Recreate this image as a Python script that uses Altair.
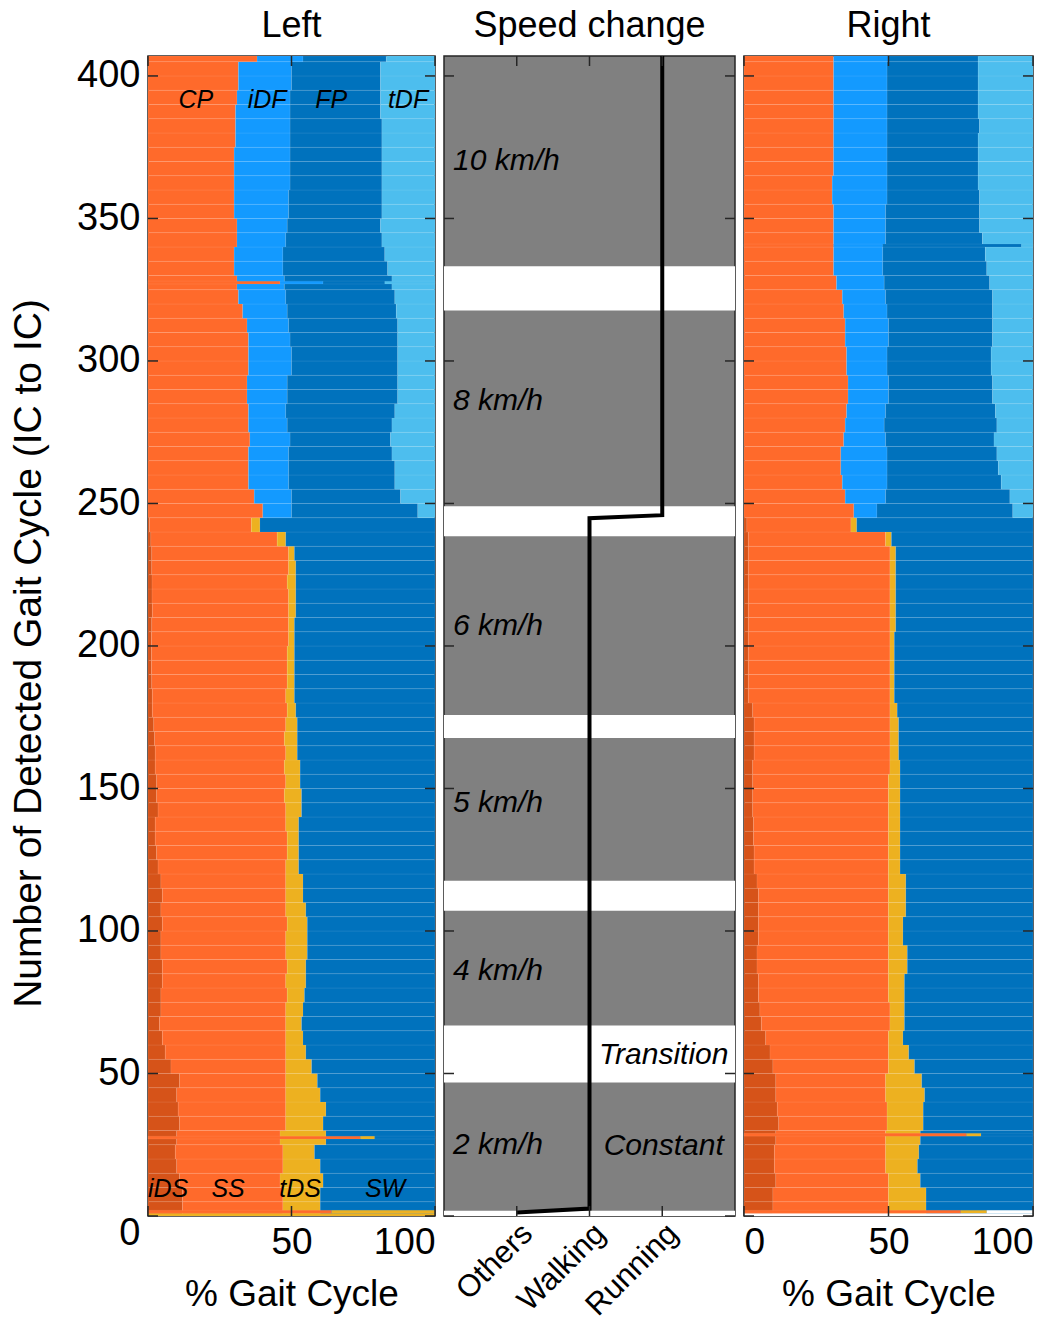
import altair as alt
import pandas as pd

# ---------------- data ----------------
CYCLE_MAX = 407
WALK_END = 245
BLOCK = 5

WALK_PHASES = ["iDS", "SS", "tDS", "SW"]
RUN_PHASES = ["CP", "iDF", "FP", "tDF"]
PHASE_COLOR = {
    "iDS": "#D65319", "SS": "#FF6A2B", "tDS": "#EDB120", "SW": "#0072BD",
    "CP": "#FF6A2B", "iDF": "#139AFF", "FP": "#0072BD", "tDF": "#4DBEEE",
    "none": "#FFFFFF",
}

# walking blocks of 5 cycles (0-245): ends of iDS, SS, tDS (% gait cycle)
LEFT_WALK_IDS = [12, 12, 11, 10, 9.5, 10, 11, 10.5, 10, 11, 8, 6, 5, 4, 4.5,
                 4.5, 5, 5, 4.5, 4.5, 5, 4.5, 5, 4.5, 3.5, 3, 2.5, 2.5, 3.5, 3,
                 3, 2.5, 2.5, 2.3, 2, 1.5, 1.5, 1.3, 1.2, 1.2, 1.2, 1.3, 1.5, 1.4, 1.4,
                 1.3, 1.3, 1, 0.5]
LEFT_WALK_SS = [47, 47, 46, 47, 47, 46, 48, 48, 48, 48, 48, 48, 48, 48, 48,
                48.5, 48, 48.5, 48, 48, 48.5, 48, 48, 48, 48, 48.5, 48.5, 48, 48, 47.5,
                48, 47.5, 48, 47.5, 48, 48.5, 48, 48.5, 48.5, 48.5, 49, 49, 49, 49, 48.5,
                49, 49, 45, 36]
LEFT_WALK_TDS = [60, 60, 61, 60, 58, 62, 61, 62, 60, 59, 57, 55, 54, 53.5, 54,
                 54.5, 55, 55, 55.5, 55.5, 55.5, 55, 54, 54, 52.5, 52.5, 52.5, 52.5, 53.5, 53.5,
                 53, 53, 52, 52, 52, 51.5, 51, 51, 51, 51, 51, 51, 51.5, 51.5, 51.5,
                 51.5, 51, 48, 39]
# running blocks of 5 cycles (245-407): ends of CP, iDF, FP
LEFT_RUN_CP = [40, 37, 35, 35, 35, 35.5, 35, 35, 34.5, 34.5, 35, 35, 35, 34.5, 33,
               31.5, 31, 30, 30, 31, 31, 30, 30, 30, 30, 30, 30.5, 30.5, 30.5, 31,
               31.5, 31.5, 38]
LEFT_RUN_IDF = [50, 50, 49, 49, 49, 49.5, 48.5, 48, 48.5, 48.5, 50, 50, 49.5, 49, 48.5,
                48, 47.5, 47, 47, 48, 48.5, 49, 49, 49.5, 49.5, 49.5, 49.5, 49.5, 49.5, 49.5,
                50, 50, 54]
LEFT_RUN_FP = [94, 88, 86, 86, 85, 84.5, 85, 86, 87, 87, 87, 87, 87, 87, 86.5,
               86, 85, 83.5, 82.5, 81.5, 81, 81.5, 81.5, 81.5, 81.5, 81.5, 81.5, 81.5, 81, 81,
               81, 81, 83]

RIGHT_WALK_IDS = [10, 10, 11, 10.5, 10.5, 11, 12, 11.5, 11, 11, 10, 9, 7.5, 6, 5.5,
                  5, 5, 4.5, 4.5, 5, 5, 5, 5, 4.5, 3.5, 3.5, 3.3, 3.3, 3, 3,
                  3, 3, 3.5, 3.5, 3.5, 3, 1.5, 1.5, 1.5, 1.5, 1.5, 1.5, 1.5, 1.5, 1.5,
                  1.5, 1.5, 1.5, 1]
RIGHT_WALK_SS = [50, 50, 50, 49, 49, 49, 49.5, 49.5, 49, 49, 50, 50, 50, 50.5, 50.5,
                 50, 50, 50, 50, 50, 50, 50, 50, 50, 50, 50, 50, 50, 50, 50,
                 50, 50.5, 50.5, 50.5, 50.5, 50.5, 50.5, 50.5, 50.5, 50.5, 50.5, 50.5, 50.5, 50.5, 50.5,
                 50.5, 50.5, 49, 37]
RIGHT_WALK_TDS = [63, 63, 61, 60, 60.5, 61, 62, 62, 62.5, 61.5, 59, 57, 55, 55.5, 55.5,
                  55.5, 55.5, 56.5, 56.5, 55, 55, 56, 56, 56, 54, 54, 54, 54, 54, 54,
                  54, 54, 53.5, 53.5, 53.5, 53, 52, 52, 52, 52, 52, 52.5, 52.5, 52.5, 52.5,
                  52.5, 52.5, 51, 39]
RIGHT_RUN_CP = [38, 35, 34, 33.5, 33.5, 34.5, 35, 35.5, 36, 36, 35.5, 35.5, 35, 35, 34.5,
                34, 32, 31, 31, 31, 31, 31, 30.5, 30.5, 31, 31, 31, 31, 31, 31,
                31, 31, 31]
RIGHT_RUN_IDF = [46, 49, 49.5, 49.5, 49.5, 49, 48.5, 49, 50, 50, 49.5, 49.5, 50, 50, 49.5,
                 49, 48.5, 48, 48, 49, 49, 49, 49.5, 49.5, 49.5, 49.5, 49.5, 49.5, 49.5, 49.5,
                 49.5, 49.5, 50]
RIGHT_RUN_FP = [93, 92, 89, 88, 87.5, 86.5, 87.5, 87, 86, 86, 85.5, 85.5, 86, 86, 86,
                86, 85, 84, 83.5, 82.5, 81.5, 81.5, 81.5, 81, 81, 81, 81, 81.5, 81, 81,
                81, 81, 81]

# single cycles that differ from their block: (cycle_lo, cycle_hi, [(phase, from, to)])
LEFT_SPECIAL = [
    (0, 1, [("tDS", 0, 100)]),
    (1, 2, [("SS", 0, 64), ("tDS", 64, 100)]),
    (27, 28, [("SS", 0, 74), ("tDS", 74, 79), ("SW", 79, 100)]),
    (327, 328, [("CP", 0, 46), ("iDF", 46, 61), ("FP", 61, 82.5), ("tDF", 82.5, 100)]),
]
RIGHT_SPECIAL = [
    (0, 1, [("none", 0, 100)]),
    (1, 2, [("SS", 0, 75), ("tDS", 75, 84), ("none", 84, 100)]),
    (28, 29, [("SS", 0, 77), ("tDS", 77, 82), ("SW", 82, 100)]),
    (340, 341, [("CP", 0, 31), ("iDF", 31, 48), ("FP", 48, 96), ("tDF", 96, 100)]),
]

# speed-change panel
CLASS_NAMES = ["Others", "Walking", "Running"]
LINE_CLASS = [1, 2, 2, 3, 3]
LINE_CYCLE = [1.2, 2.6, 244.8, 245.9, 407]
BAND_LO = [0, 46.8, 107.1, 167.7, 238.5, 317.7]
BAND_HI = [1.8, 66.8, 117.6, 175.8, 249.0, 333.2]
SPEED_TEXT = ["10 km/h", "8 km/h", "6 km/h", "5 km/h", "4 km/h", "2 km/h"]
SPEED_Y = [370, 286, 207, 145, 86, 25]
STATE_TEXT = ["Transition", "Constant"]
STATE_Y = [56.5, 24.5]

# phase labels in left panel
RUN_LABEL_X = [16.7, 41.5, 63.8, 90.6]
RUN_LABEL_Y = 391.7
WALK_LABEL_X = [7, 27.9, 53, 82.6]
WALK_LABEL_Y = 9.6

Y_TICKS = list(range(0, 401, 50))
X_TICKS = [0, 50, 100]
MID_TICKS = [1, 2, 3]

# ---------------- style ----------------
FONT = "Liberation Sans"
H = 1160
W_L, W_M, W_R = 287, 291, 289
TICK_LEN = 10
FRAME = "#262626"

yscale = alt.Scale(domain=[0, CYCLE_MAX], nice=False, zero=False)
xscale = alt.Scale(domain=[0, 100], nice=False, zero=False)
mscale = alt.Scale(domain=[0, 4], nice=False, zero=False)

Y_AXIS_LEFT = alt.Axis(
    values=Y_TICKS, title="Number of Detected Gait Cycle (IC to IC)",
    labelPadding=8, titlePadding=28, titleFontSize=39, labelFontSize=38,
    titleY=597,
    labelOffset={"condition": {"test": "datum.value === 0", "value": 17}, "value": 0},
)
X_AXIS_LEFT = alt.Axis(values=[50, 100], title="% Gait Cycle", labelFlush=True,
                       labelPadding=8, titlePadding=16)
X_AXIS_RIGHT = alt.Axis(values=X_TICKS, title="% Gait Cycle", labelFlush=True,
                        labelPadding=8, titlePadding=16)
X_AXIS_MID = alt.Axis(values=MID_TICKS, title=None, labelAngle=-45, labelFontSize=31,
                      labelPadding=2, labelOverlap=False, labelBound=False,
                      labelExpr="['', 'Others', 'Walking', 'Running'][datum.value]")


def build_bars(w_ids, w_ss, w_tds, r_cp, r_idf, r_fp, special):
    rows = []
    for i in range(len(w_ids)):
        lo, hi = i * BLOCK, i * BLOCK + BLOCK
        edges = [0, w_ids[i], w_ss[i], w_tds[i], 100]
        for k, ph in enumerate(WALK_PHASES):
            rows.append(dict(c0=lo, c1=hi, p0=edges[k], p1=edges[k + 1], col=PHASE_COLOR[ph]))
    for j in range(len(r_cp)):
        lo = WALK_END + j * BLOCK
        hi = min(lo + BLOCK, CYCLE_MAX)
        edges = [0, r_cp[j], r_idf[j], r_fp[j], 100]
        for k, ph in enumerate(RUN_PHASES):
            rows.append(dict(c0=lo, c1=hi, p0=edges[k], p1=edges[k + 1], col=PHASE_COLOR[ph]))
    for lo, hi, segs in special:
        for ph, a, b in segs:
            rows.append(dict(c0=lo, c1=hi, p0=a, p1=b, col=PHASE_COLOR[ph]))
    return pd.DataFrame(rows)


def tick_layers(width, xvals, xsc, xaxis, yaxis):
    yt = pd.DataFrame({"v": Y_TICKS})
    xt = pd.DataFrame({"v": xvals})
    base_y = alt.Chart(yt).mark_rule(color=FRAME, strokeWidth=1.5)
    base_x = alt.Chart(xt).mark_rule(color=FRAME, strokeWidth=1.5)
    return [
        base_y.encode(y=alt.Y("v:Q", scale=yscale, axis=yaxis), x=alt.value(0), x2=alt.value(TICK_LEN)),
        base_y.encode(y=alt.Y("v:Q", scale=yscale, axis=yaxis), x=alt.value(width - TICK_LEN), x2=alt.value(width)),
        base_x.encode(x=alt.X("v:Q", scale=xsc, axis=xaxis), y=alt.value(H - TICK_LEN), y2=alt.value(H)),
        base_x.encode(x=alt.X("v:Q", scale=xsc, axis=xaxis), y=alt.value(0), y2=alt.value(TICK_LEN)),
    ]


def gait_bars(df, xaxis, yaxis):
    return alt.Chart(df).mark_rect(stroke="white", strokeWidth=0.6, strokeOpacity=0.12).encode(
        x=alt.X("p0:Q", scale=xscale, axis=xaxis),
        x2="p1:Q",
        y=alt.Y("c0:Q", scale=yscale, axis=yaxis),
        y2="c1:Q",
        color=alt.Color("col:N", scale=None),
    )


left_df = build_bars(LEFT_WALK_IDS, LEFT_WALK_SS, LEFT_WALK_TDS,
                     LEFT_RUN_CP, LEFT_RUN_IDF, LEFT_RUN_FP, LEFT_SPECIAL)
right_df = build_bars(RIGHT_WALK_IDS, RIGHT_WALK_SS, RIGHT_WALK_TDS,
                      RIGHT_RUN_CP, RIGHT_RUN_IDF, RIGHT_RUN_FP, RIGHT_SPECIAL)

lab_df = pd.DataFrame({
    "t": RUN_PHASES + WALK_PHASES,
    "x": RUN_LABEL_X + WALK_LABEL_X,
    "y": [RUN_LABEL_Y] * 4 + [WALK_LABEL_Y] * 4,
})
left_labels = alt.Chart(lab_df).mark_text(
    font=FONT, fontSize=25, fontStyle="italic", color="black", align="center", baseline="middle"
).encode(x=alt.X("x:Q", scale=xscale, axis=X_AXIS_LEFT),
         y=alt.Y("y:Q", scale=yscale, axis=Y_AXIS_LEFT), text="t:N")

left = alt.layer(
    gait_bars(left_df, X_AXIS_LEFT, Y_AXIS_LEFT),
    *tick_layers(W_L, X_TICKS, xscale, X_AXIS_LEFT, Y_AXIS_LEFT),
    left_labels,
).properties(width=W_L, height=H, title=alt.TitleParams("Left", dy=-2))

right = alt.layer(
    gait_bars(right_df, X_AXIS_RIGHT, None),
    *tick_layers(W_R, X_TICKS, xscale, X_AXIS_RIGHT, None),
).properties(width=W_R, height=H, title=alt.TitleParams("Right", dy=-2))

# middle panel
band_df = pd.DataFrame({"lo": BAND_LO, "hi": BAND_HI})
bands = alt.Chart(band_df).mark_rect(color="white").encode(
    y=alt.Y("lo:Q", scale=yscale, axis=None), y2="hi:Q",
    x=alt.value(0), x2=alt.value(W_M))
line_df = pd.DataFrame({"cls": LINE_CLASS, "cyc": LINE_CYCLE})
line = alt.Chart(line_df).mark_line(color="black", strokeWidth=4).encode(
    x=alt.X("cls:Q", scale=mscale, axis=X_AXIS_MID),
    y=alt.Y("cyc:Q", scale=yscale, axis=None),
    order=alt.Order("cyc:Q"),
)
speed_df = pd.DataFrame({"t": SPEED_TEXT, "y": SPEED_Y})
speed = alt.Chart(speed_df).mark_text(
    font=FONT, fontSize=30, fontStyle="italic", color="black", align="left", baseline="middle"
).encode(x=alt.value(9), y=alt.Y("y:Q", scale=yscale, axis=None), text="t:N")
state_df = pd.DataFrame({"t": STATE_TEXT, "y": STATE_Y, "x": [3.02, 3.02]})
state = alt.Chart(state_df).mark_text(
    font=FONT, fontSize=30, fontStyle="italic", color="black", align="center", baseline="middle"
).encode(x=alt.X("x:Q", scale=mscale, axis=X_AXIS_MID),
         y=alt.Y("y:Q", scale=yscale, axis=None), text="t:N")

middle = alt.layer(bands, line, speed, state,
                   *tick_layers(W_M, MID_TICKS, mscale, X_AXIS_MID, None)).properties(
    width=W_M, height=H, title=alt.TitleParams("Speed change", dy=5),
    view=alt.ViewBackground(fill="#808080", stroke=FRAME, strokeWidth=1.5),
)

chart = alt.hconcat(left, middle, right, spacing=9, bounds="flush").resolve_scale(
    x="independent", y="independent"
).properties(
    padding={"left": 8, "top": 7, "right": 0, "bottom": 0},
    background="white",
).configure_view(
    stroke=FRAME, strokeWidth=1.5
).configure_axis(
    labelFont=FONT, titleFont=FONT, labelFontSize=37, titleFontSize=37,
    labelColor="black", titleColor="black", titleFontWeight="normal",
    ticks=False, domain=False, grid=False,
).configure_title(
    font=FONT, fontSize=36, fontWeight="normal", color="black", offset=8, anchor="middle"
)

chart.save("out.html", embed_options={"renderer": "svg", "actions": False})
